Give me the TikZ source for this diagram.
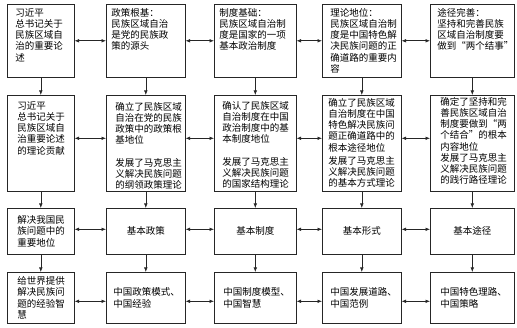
\documentclass[tikz,border=0pt]{standalone}
\usepackage{fontspec}
\newfontfamily\cjk{Noto Sans CJK SC}
\usetikzlibrary{arrows.meta}
\newcommand\tbx[6]{\parbox[c][#2][#3]{#1}{\raggedright\leftskip=#4\relax\parindent=0pt\vspace*{#5}#6\par}}
\newcommand\cbx[3]{\parbox[c][#2][c]{#1}{\centering #3\par}}
\tikzset{
  bx/.style={draw=black!85, line width=0.6pt, anchor=north west, inner sep=0pt,
    font=\cjk\fontsize{9.5}{11.2}\selectfont},
  ar/.style={{Latex[length=4.5pt,width=3.6pt]}-{Latex[length=4.5pt,width=3.6pt]}, line width=0.6pt, draw=black!85},
  dn/.style={-{Latex[length=4.5pt,width=3.6pt]}, line width=0.6pt, draw=black!85}
}
\begin{document}
\begin{tikzpicture}[x=1pt,y=-1pt]
\useasboundingbox (0,0) rectangle (517,328);
% row 1
\node[bx] (a1) at (7,4) {\tbx{67pt}{73pt}{t}{8pt}{4pt}{习近平\\总书记关于\\民族区域自\\治的重要论\\述}};
\node[bx] (a2) at (106,4) {\tbx{79pt}{73pt}{t}{5pt}{4pt}{政策根基：\\民族区域自治\\是党的民族政\\策的源头}};
\node[bx] (a3) at (214,4) {\tbx{82pt}{73pt}{t}{5pt}{4pt}{制度基础：\\民族区域自治制\\度是国家的一项\\基本政治制度}};
\node[bx] (a4) at (322,4) {\tbx{79pt}{73pt}{t}{8pt}{4pt}{理论地位：\\民族区域自治制\\度是中国特色解\\决民族问题的正\\确道路的重要内\\容}};
\node[bx] (a5) at (430,4) {\tbx{84pt}{73pt}{t}{7pt}{4pt}{途径完善：\\坚持和完善民族\\区域自治制度要\\做到“两个结事”}};
% row 2
\node[bx] (b1) at (7,95) {\tbx{67pt}{96pt}{t}{10pt}{6pt}{习近平\\总书记关于\\民族区域自\\治重要论述\\的理论贡献}};
\node[bx] (b2) at (106,95) {\tbx{79pt}{96pt}{t}{9pt}{7pt}{确立了民族区域\\自治在党的民族\\政策中的政策根\\基地位\\[11.2pt]发展了马克思主\\义解决民族问题\\的纲领政策理论}};
\node[bx] (b3) at (214,95) {\tbx{82pt}{96pt}{t}{8pt}{6pt}{确认了民族区域\\自治制度在中国\\政治制度中的基\\本制度地位\\[11.2pt]发展了马克思主\\义解决民族问题\\的国家结构理论}};
\node[bx] (b4) at (322,95) {\tbx{79pt}{96pt}{t}{6pt}{3pt}{确立了民族区域\\自治制度在中国\\特色解决民族问\\题正确道路中的\\根本途径地位\\[2pt]发展了马克思主\\义解决民族问题\\的基本方式理论}};
\node[bx] (b5) at (430,95) {\tbx{84pt}{96pt}{t}{10pt}{2pt}{确定了坚持和完\\善民族区域自治\\制度要做到“两\\个结合”的根本\\内容地位\\发展了马克思主\\义解决民族问题\\的践行路径理论}};
% row 3
\node[bx] (c1) at (7,208) {\tbx{67pt}{46pt}{c}{10pt}{0pt}{解决我国民\\族问题中的\\重要地位}};
\node[bx] (c2) at (106,208) {\cbx{79pt}{46pt}{基本政策}};
\node[bx] (c3) at (214,208) {\cbx{82pt}{46pt}{基本制度}};
\node[bx] (c4) at (322,208) {\cbx{79pt}{46pt}{基本形式}};
\node[bx] (c5) at (430,208) {\cbx{84pt}{46pt}{基本途径}};
% row 4
\node[bx] (d1) at (7,272) {\tbx{67pt}{51pt}{c}{10pt}{0pt}{给世界提供\\解决民族问\\题的经验智\\慧}};
\node[bx] (d2) at (106,272) {\tbx{79pt}{51pt}{c}{7pt}{0pt}{中国政策模式、\\中国经验}};
\node[bx] (d3) at (214,272) {\tbx{82pt}{51pt}{c}{9pt}{0pt}{中国制度模型、\\中国智慧}};
\node[bx] (d4) at (322,272) {\tbx{79pt}{51pt}{c}{8pt}{0pt}{中国发展道路、\\中国范例}};
\node[bx] (d5) at (430,272) {\tbx{84pt}{51pt}{c}{10pt}{0pt}{中国特色理路、\\中国策略}};
% vertical arrows
\foreach \i in {1,...,5} {
  \draw[dn] (a\i.south) -- (b\i.north);
  \draw[dn] (b\i.south) -- (c\i.north);
  \draw[dn] (c\i.south) -- (d\i.north);
}
% horizontal arrows
\foreach \i/\j in {1/2,2/3,3/4,4/5} {
  \draw[ar] (a\i.east) -- (a\j.west);
  \draw[ar] ([yshift=5pt]b\i.east) -- ([yshift=5pt]b\j.west);
  \draw[ar] ([yshift=2pt]c\i.east) -- ([yshift=2pt]c\j.west);
  \draw[ar] ([yshift=-3.5pt]d\i.east) -- ([yshift=-3.5pt]d\j.west);
}
\end{tikzpicture}
\end{document}
